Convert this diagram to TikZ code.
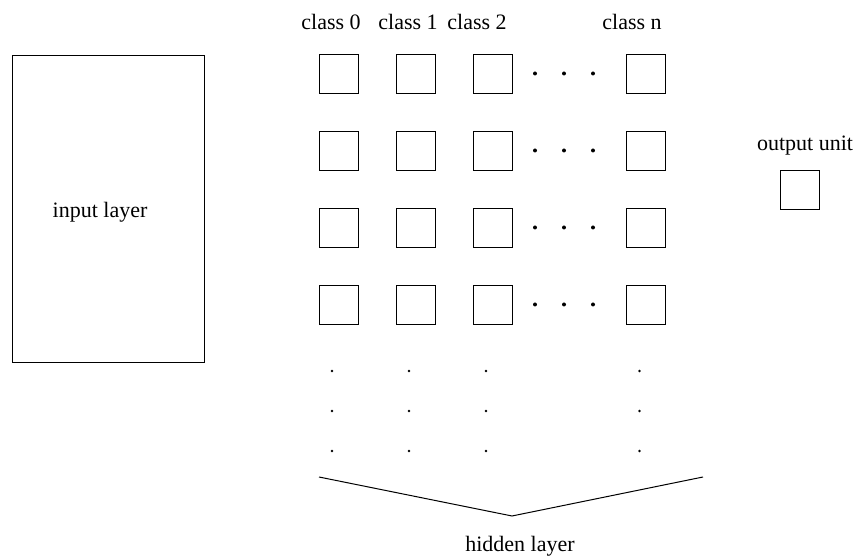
\documentclass[tikz,border=0pt]{standalone}
\usepackage{fontspec}
\setmainfont{Liberation Serif}
\usetikzlibrary{positioning}

\begin{document}
\begin{tikzpicture}[x=0.5pt, y=-0.5pt,
        unit/.style={rectangle, draw, minimum size=19.5pt, inner sep=0pt},
        layerbox/.style={rectangle, draw, minimum width=96pt, minimum height=153.5pt},
        lbl/.style={font=\fontsize{11}{13}\selectfont, inner sep=0pt},
        hdot/.style={fill, circle, inner sep=0pt, minimum size=2pt},
        vdot/.style={fill, circle, inner sep=0pt, minimum size=1.4pt}
    ]
        \useasboundingbox (0,0) rectangle (853,560);

        % input layer
        \node[layerbox] (input) at (108,208.5) {};
        \node[lbl] (inputlbl) at (100,212) {input layer};

        % hidden layer: one column per class
        \foreach \c/\x/\lx in {0/338.5/331, 1/415.5/408, 2/492.5/477, n/646/632} {
            \node[lbl] (cls\c) at (\lx,22) {class \c};
            \foreach \r/\y in {1/73.5, 2/150.5, 3/227.5, 4/304.5}
                \node[unit] (h\c\r) at (\x,\y) {};
            \foreach \y in {371, 411, 451}
                \node[vdot] at (\x-6.5,\y) {};
        }
        \foreach \y in {73.5, 150.5, 227.5, 304.5}
            \foreach \x in {535, 564, 593}
                \node[hdot] at (\x,\y) {};

        % output unit
        \node[lbl] (outlbl) at (805,146) {output unit};
        \node[unit] (out) at (800,189.5) {};

        % brace under the hidden layer
        \coordinate (bl) at (319,477);
        \coordinate (bm) at (512,516);
        \coordinate (br) at (703,477);
        \draw[line width=0.5pt] (bl) -- (bm) -- (br);
        \node[lbl] (hidlbl) at (520,546) {hidden layer};
    \end{tikzpicture}
\end{document}
